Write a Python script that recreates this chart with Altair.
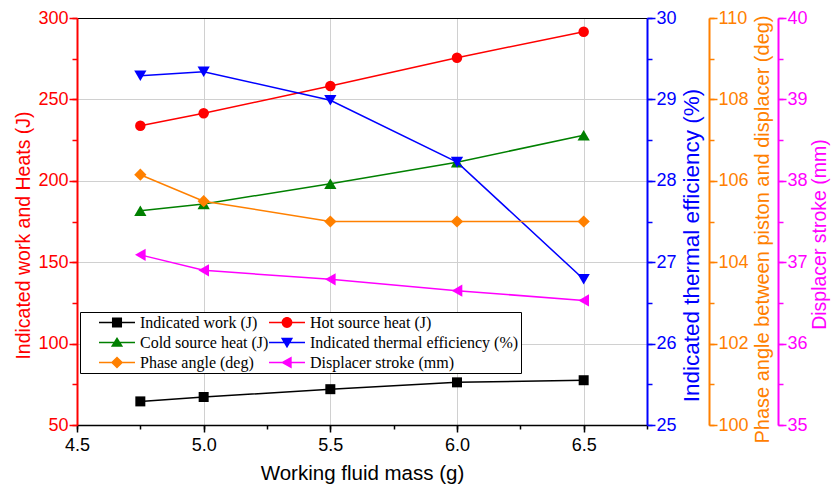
import altair as alt
import pandas as pd

# ---------------- data ----------------
x_mass = [4.75, 5.0, 5.5, 6.0, 6.5]
indicated_work = [64.5, 67.2, 72.0, 76.2, 77.5]
hot_source_heat = [233.8, 241.5, 258.2, 275.6, 291.6]
cold_source_heat = [181.6, 185.8, 198.2, 211.4, 228.0]
thermal_efficiency = [29.29, 29.34, 28.99, 28.23, 26.79]
phase_angle = [106.15, 105.5, 105.0, 105.0, 105.0]
displacer_stroke = [37.09, 36.90, 36.79, 36.65, 36.53]

series_names = [
    "Indicated work (J)",
    "Hot source heat (J)",
    "Cold source heat (J)",
    "Indicated thermal efficiency (%)",
    " Phase angle (deg)",
    "Displacer stroke (mm)",
]
series_values = [indicated_work, hot_source_heat, cold_source_heat,
                 thermal_efficiency, phase_angle, displacer_stroke]
series_colors = ["#000000", "#FF0000", "#008000", "#0000FF", "#FF8000", "#FF00FF"]
series_shapes = ["square", "circle", "triangle-up", "triangle-down", "diamond", "triangle-left"]
series_sizes = [100, 110, 150, 150, 150, 150]

x_title = "Working fluid mass (g)"
left_title = "Indicated work and Heats (J)"
blue_title = "Indicated thermal efficiency (%)"
orange_title = "Phase angle between piston and displacer (deg)"
magenta_title = "Displacer stroke (mm)"

x_major = [4.5, 5.0, 5.5, 6.0, 6.5]
x_minor = [4.5, 4.75, 5.0, 5.25, 5.5, 5.75, 6.0, 6.25, 6.5, 6.75]
x_grid = [5.0, 5.5, 6.0, 6.5]
left_major = [50, 100, 150, 200, 250, 300]
left_minor = [50, 75, 100, 125, 150, 175, 200, 225, 250, 275, 300]
left_grid = [100, 150, 200, 250]
blue_major = [25, 26, 27, 28, 29, 30]
blue_minor = [25, 25.5, 26, 26.5, 27, 27.5, 28, 28.5, 29, 29.5, 30]
orange_major = [100, 102, 104, 106, 108, 110]
orange_minor = [100, 101, 102, 103, 104, 105, 106, 107, 108, 109, 110]
magenta_major = [35, 36, 37, 38, 39, 40]
magenta_minor = [35, 35.5, 36, 36.5, 37, 37.5, 38, 38.5, 39, 39.5, 40]

rows = []
for name, vals in zip(series_names, series_values):
    for xv, yv in zip(x_mass, vals):
        rows.append({"mass": xv, "series": name, "value": yv})
df = pd.DataFrame(rows)

# legend symbols: short line with the marker in its middle
LINE = "M-1,-0.042H1V0.042H-1Z"
legend_paths = [
    LINE + "M-0.28,-0.28H0.28V0.28H-0.28Z",
    LINE + "M0.3,0A0.3,0.3,0,1,1,-0.3,0A0.3,0.3,0,1,1,0.3,0Z",
    LINE + "M0,-0.31L0.34,0.24L-0.34,0.24Z",
    LINE + "M-0.34,-0.26L0.34,-0.26L0,0.32Z",
    LINE + "M0,-0.34L0.34,0L0,0.34L-0.34,0Z",
    LINE + "M-0.34,0L0.26,-0.34L0.26,0.34Z",
]

SANS = "Liberation Sans"
LBL = 18
GRID = "#d0d0d0"

x_scale = alt.Scale(domain=[4.5, 6.75], nice=False, zero=False)


def xenc(axis=None):
    return alt.X("mass:Q", scale=x_scale, axis=axis)


x_main_axis = alt.Axis(orient="bottom", values=x_major, format=".1f", title=x_title,
                       labelFont=SANS, labelFontSize=LBL, labelColor="black",
                       titleFont=SANS, titleFontSize=20.5, titleFontWeight="normal",
                       titleColor="black", titlePadding=9, labelPadding=4,
                       tickSize=7, tickWidth=1.5, tickColor="black",
                       domainColor="black", domainWidth=1.5, grid=False, labelFlush=False)
x_minor_axis = alt.Axis(orient="bottom", values=x_minor, labels=False, title=None,
                        tickSize=4, tickWidth=1.5, tickColor="black", domain=False, grid=False)
x_grid_axis = alt.Axis(orient="bottom", values=x_grid, labels=False, title=None, ticks=False,
                       domain=False, grid=True, gridColor=GRID, gridWidth=1)
x_top_axis = alt.Axis(orient="top", labels=False, ticks=False, title=None, grid=False,
                      domainColor="black", domainWidth=1)


def major_axis(orient, values, title, color, title_size, title_y, offset=0, title_pad=4):
    kw = dict(orient=orient, values=values, title=title, format="d",
              labelFont=SANS, labelFontSize=LBL, labelColor=color,
              titleFont=SANS, titleFontSize=title_size, titleFontWeight="normal",
              titleColor=color, titleY=title_y,
              titlePadding=title_pad, labelPadding=1, tickSize=8, tickWidth=1.5, tickColor=color,
              domainColor=color, domainWidth=2, grid=False, offset=offset, labelFlush=False)
    if orient == "right":
        kw["titleAngle"] = 270
        kw["titleBaseline"] = "top"
    return alt.Axis(**kw)


def minor_axis(orient, values, color, offset=0):
    return alt.Axis(orient=orient, values=values, labels=False, title=None, tickSize=5,
                    tickWidth=1.5, tickColor=color, domain=False, grid=False, offset=offset)


def series_layers(i, y_scale, line_y_axis=None, pts_y_axis=None, line_x_axis=None, pts_x_axis=None):
    sub = df[df["series"] == series_names[i]]
    base = alt.Chart(sub)
    line = base.mark_line(color=series_colors[i], strokeWidth=1.5).encode(
        x=xenc(line_x_axis),
        y=alt.Y("value:Q", scale=y_scale, axis=line_y_axis),
    )
    pts = base.mark_point(filled=True, shape=series_shapes[i], size=series_sizes[i],
                          color=series_colors[i], opacity=1, strokeWidth=0).encode(
        x=xenc(pts_x_axis),
        y=alt.Y("value:Q", scale=y_scale, axis=pts_y_axis),
    )
    return [line, pts]


left_scale = alt.Scale(domain=[50, 300], nice=False, zero=False)
blue_scale = alt.Scale(domain=[25, 30], nice=False, zero=False)
orange_scale = alt.Scale(domain=[100, 110], nice=False, zero=False)
magenta_scale = alt.Scale(domain=[35, 40], nice=False, zero=False)

left_grid_axis = alt.Axis(orient="left", values=left_grid, labels=False, title=None, ticks=False,
                          domain=False, grid=True, gridColor=GRID, gridWidth=1)

left_group = alt.layer(
    *series_layers(2, left_scale, line_y_axis=left_grid_axis, line_x_axis=x_grid_axis),
    *series_layers(1, left_scale, line_y_axis=minor_axis("left", left_minor, "#FF0000"),
                   pts_x_axis=x_minor_axis),
    *series_layers(0, left_scale,
                   line_y_axis=major_axis("left", left_major, left_title, "#FF0000", 19.5, 217),
                   pts_x_axis=x_main_axis),
).resolve_axis(x="independent", y="independent")

blue_group = alt.layer(
    *series_layers(3, blue_scale,
                   line_y_axis=minor_axis("right", blue_minor, "#0000FF"),
                   pts_y_axis=major_axis("right", blue_major, blue_title, "#0000FF", 22.5, 227,
                                         title_pad=4),
                   pts_x_axis=x_top_axis),
).resolve_axis(x="independent", y="independent")

orange_group = alt.layer(
    *series_layers(4, orange_scale,
                   line_y_axis=minor_axis("right", orange_minor, "#FF8000", offset=62),
                   pts_y_axis=major_axis("right", orange_major, orange_title, "#FF8000", 20, 211,
                                         offset=62, title_pad=4)),
).resolve_axis(x="independent", y="independent")

magenta_group = alt.layer(
    *series_layers(5, magenta_scale,
                   line_y_axis=minor_axis("right", magenta_minor, "#FF00FF", offset=131),
                   pts_y_axis=major_axis("right", magenta_major, magenta_title, "#FF00FF", 19.5, 216,
                                         offset=131, title_pad=3)),
).resolve_axis(x="independent", y="independent")

legend_df = pd.DataFrame({"series": series_names})
legend_kw = dict(
    orient="none", legendX=3, legendY=294, columns=2, direction="horizontal",
    title=" ", titleOrient="left", titlePadding=17, titleFontSize=11, titleFont=SANS,
    labelFont="Liberation Serif", labelFontSize=16, labelColor="black", labelLimit=400,
    strokeColor="black", fillColor="white", padding=2, cornerRadius=0,
    columnPadding=0, rowPadding=3, clipHeight=17, symbolOffset=0, labelOffset=5,
    symbolStrokeWidth=0, symbolSize=1296,
)
legend_layer = alt.Chart(legend_df).transform_filter("false").mark_point(
    filled=True, size=1296, opacity=1, strokeWidth=0
).encode(
    color=alt.Color("series:N", scale=alt.Scale(domain=series_names, range=series_colors),
                    legend=alt.Legend(**legend_kw)),
    shape=alt.Shape("series:N", scale=alt.Scale(domain=series_names, range=legend_paths),
                    legend=alt.Legend(**legend_kw)),
)

chart = alt.layer(
    left_group, blue_group, orange_group, magenta_group, legend_layer
).resolve_scale(
    y="independent"
).resolve_axis(
    x="independent", y="independent"
).properties(
    width=570, height=407,
    autosize=alt.AutoSizeParams(type="none"),
    padding={"left": 77, "top": 18, "right": 184, "bottom": 64},
    background="white",
).configure_view(stroke=None)

chart.save("out.html", embed_options={"renderer": "svg", "actions": False})
